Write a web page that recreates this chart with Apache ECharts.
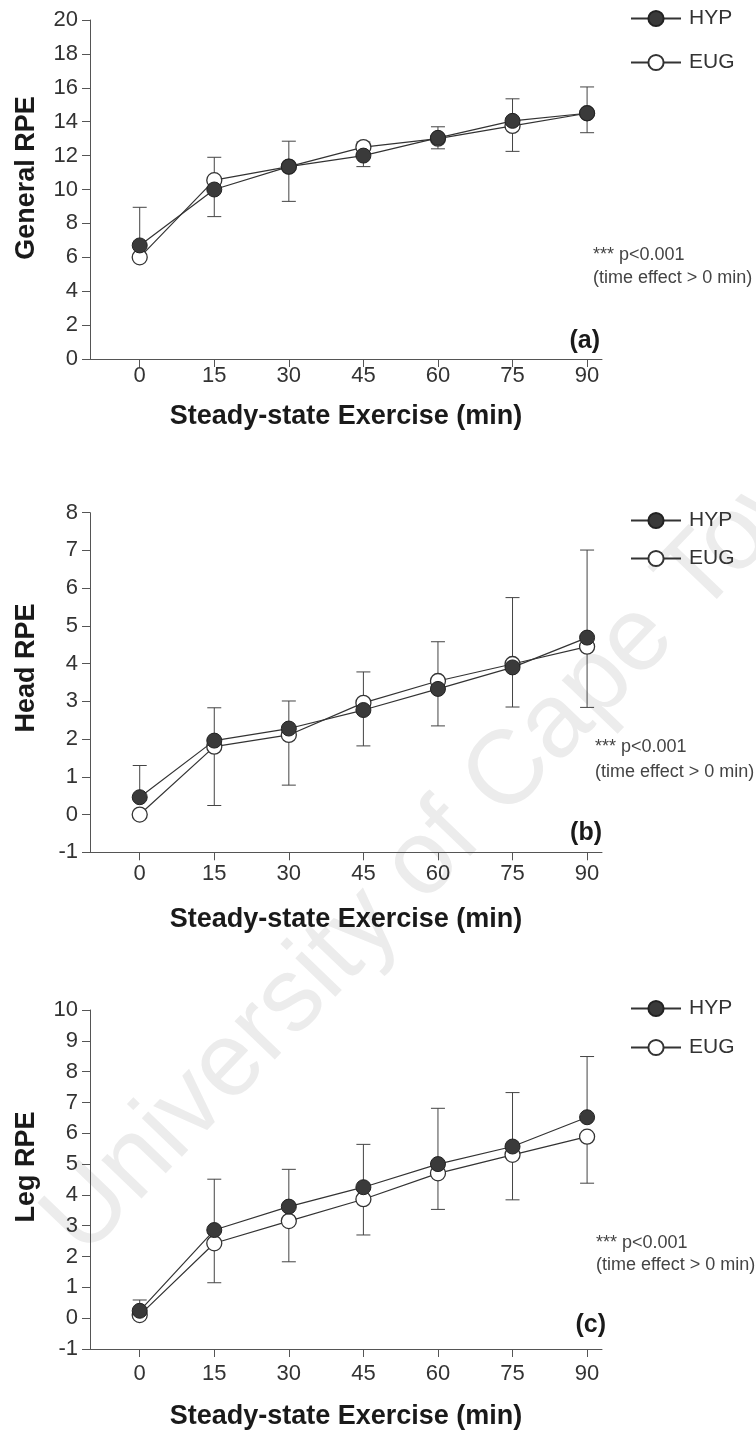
<!DOCTYPE html>
<html>
<head>
<meta charset="utf-8">
<title>RPE during steady-state exercise</title>
<script src="https://cdn.jsdelivr.net/npm/echarts@6/dist/echarts.min.js"></script>
<style>
  html, body { margin: 0; padding: 0; background: #fff; }
  #chart { width: 756px; height: 1431px; }
</style>
</head>
<body>
<div id="chart"></div>
<script>
// Sampling times (min) and the x tick labels
const times = [0, 15, 30, 45, 60, 75, 90];
const xTickValues = [0, 15, 30, 45, 60, 75, 90];

// (a) General RPE: means and SD (HYP bars drawn up, EUG bars drawn down)
const generalHypMean = [6.7, 10.0, 11.35, 12.0, 13.05, 14.05, 14.5];
const generalHypSD   = [2.25, 1.9, 1.5, 0.8, 0.65, 1.3, 1.55];
const generalEugMean = [6.0, 10.55, 11.35, 12.5, 13.0, 13.75, 14.5];
const generalEugSD   = [0, 2.15, 2.05, 1.15, 0.6, 1.5, 1.15];

// (b) Head RPE
const headHypMean = [0.46, 1.96, 2.28, 2.77, 3.33, 3.90, 4.69];
const headHypSD   = [0.84, 0.87, 0.73, 1.01, 1.25, 1.85, 2.32];
const headEugMean = [0.0, 1.80, 2.11, 2.96, 3.54, 3.99, 4.45];
const headEugSD   = [0, 1.56, 1.33, 1.14, 1.19, 1.14, 1.61];

// (c) Leg RPE
const legHypMean = [0.24, 2.86, 3.62, 4.25, 5.0, 5.57, 6.52];
const legHypSD   = [0.35, 1.65, 1.21, 1.39, 1.81, 1.75, 1.97];
const legEugMean = [0.10, 2.43, 3.15, 3.86, 4.70, 5.30, 5.89];
const legEugSD   = [0.1, 1.28, 1.32, 1.16, 1.17, 1.46, 1.51];

// y-axis ranges per panel
const generalY = { min: 0, max: 20, interval: 2 };
const headY    = { min: -1, max: 8, interval: 1 };
const legY     = { min: -1, max: 10, interval: 1 };

const FONT = '"Liberation Sans", Arial, sans-serif';
const AXIS = '#555';

const panels = [
  { title: 'General RPE', hyp: generalHypMean, hypSD: generalHypSD, eug: generalEugMean, eugSD: generalEugSD,
    y: generalY, grid: { left: 90, top: 20, width: 512, height: 339 },
    labelMargin: 6, nameGap: 44, yNamePad: 23, legendTop: 3, legendGap: 23 },
  { title: 'Head RPE', hyp: headHypMean, hypSD: headHypSD, eug: headEugMean, eugSD: headEugSD,
    y: headY, grid: { left: 90, top: 512.7, width: 512, height: 339.6 },
    labelMargin: 11, nameGap: 54, yNamePad: 29, legendTop: 505, legendGap: 17 },
  { title: 'Leg RPE', hyp: legHypMean, hypSD: legHypSD, eug: legEugMean, eugSD: legEugSD,
    y: legY, grid: { left: 90, top: 1010, width: 512, height: 339 },
    labelMargin: 14, nameGap: 54, yNamePad: 25, legendTop: 993, legendGap: 18 }
];

function pairs(means) {
  return times.map((t, i) => [t, means[i]]);
}
function barData(means, sds, dir) {
  return times.map((t, i) => [t, means[i], means[i] + dir * sds[i]]);
}

// Vertical error bar with a cap at its far end
function renderErrorBar(params, api) {
  const x = api.value(0);
  const m = api.value(1);
  const e = api.value(2);
  if (m === e) return { type: 'group', children: [] };
  const p0 = api.coord([x, m]);
  const p1 = api.coord([x, e]);
  const half = 7;
  const style = { stroke: '#444', lineWidth: 1 };
  return {
    type: 'group',
    children: [
      { type: 'line', shape: { x1: p0[0], y1: p0[1], x2: p1[0], y2: p1[1] }, style: style },
      { type: 'line', shape: { x1: p1[0] - half, y1: p1[1], x2: p1[0] + half, y2: p1[1] }, style: style }
    ]
  };
}

const grid = [], xAxis = [], yAxis = [], series = [], legend = [];

panels.forEach((p, k) => {
  grid.push(Object.assign({ containLabel: false }, p.grid));
  xAxis.push({
    type: 'value', gridIndex: k, min: -10, max: 93,
    name: 'Steady-state Exercise (min)', nameLocation: 'middle', nameGap: p.nameGap,
    nameTextStyle: { fontFamily: FONT, fontSize: 27, fontWeight: 'bold', color: '#1a1a1a' },
    axisLine: { onZero: false, lineStyle: { color: AXIS, width: 1 } },
    axisTick: { show: true, length: 8, customValues: xTickValues, lineStyle: { color: AXIS } },
    axisLabel: { customValues: xTickValues, margin: p.labelMargin, fontFamily: FONT, fontSize: 22, color: '#333' },
    splitLine: { show: false }
  });
  yAxis.push({
    type: 'value', gridIndex: k, min: p.y.min, max: p.y.max, interval: p.y.interval,
    name: p.title, nameLocation: 'middle', nameGap: 50,
    nameTextStyle: { fontFamily: FONT, fontSize: 27, fontWeight: 'bold', color: '#1a1a1a', padding: [0, 0, 0, p.yNamePad] },
    axisLine: { show: true, onZero: false, lineStyle: { color: AXIS, width: 1 } },
    axisTick: { show: true, length: 8, lineStyle: { color: AXIS } },
    axisLabel: { margin: 12, fontFamily: FONT, fontSize: 22, color: '#333' },
    splitLine: { show: false }
  });

  series.push({
    type: 'custom', name: 'HYP SD ' + k, xAxisIndex: k, yAxisIndex: k, z: 1,
    renderItem: renderErrorBar, encode: { x: 0, y: [1, 2] },
    data: barData(p.hyp, p.hypSD, 1), silent: true
  });
  series.push({
    type: 'custom', name: 'EUG SD ' + k, xAxisIndex: k, yAxisIndex: k, z: 1,
    renderItem: renderErrorBar, encode: { x: 0, y: [1, 2] },
    data: barData(p.eug, p.eugSD, -1), silent: true
  });
  series.push({
    type: 'line', name: 'EUG', xAxisIndex: k, yAxisIndex: k, z: 3,
    data: pairs(p.eug), symbol: 'circle', symbolSize: 15, showSymbol: true,
    lineStyle: { color: '#333', width: 1.2 },
    itemStyle: { color: '#ffffff', borderColor: '#333', borderWidth: 1.3 }
  });
  series.push({
    type: 'line', name: 'HYP', xAxisIndex: k, yAxisIndex: k, z: 4,
    data: pairs(p.hyp), symbol: 'circle', symbolSize: 15, showSymbol: true,
    lineStyle: { color: '#333', width: 1.2 },
    itemStyle: { color: '#3a3a3a', borderColor: '#222', borderWidth: 1 }
  });

  legend.push({
    data: ['HYP', 'EUG'], orient: 'vertical', left: 625, top: p.legendTop,
    itemWidth: 50, itemHeight: 19, itemGap: p.legendGap, selectedMode: false,
    textStyle: { fontFamily: FONT, fontSize: 21, lineHeight: 21, color: '#333', padding: [0, 0, 0, 3] }
  });
});

// Panel letters and statistics notes
const notes = [
  { letter: '(a)', lx: 600, ly: 341, nx: 593, ny1: 255, ny2: 278 },
  { letter: '(b)', lx: 602, ly: 833, nx: 595, ny1: 747, ny2: 772 },
  { letter: '(c)', lx: 606, ly: 1325, nx: 596, ny1: 1243, ny2: 1265 }
];
const graphicElements = [
  {
    type: 'text', x: 455, y: 830, rotation: 0.806, z: -10, silent: true,
    style: { text: 'University of Cape Town', font: '105px ' + FONT, fill: '#ececec',
             textAlign: 'center', textVerticalAlign: 'middle' }
  }
];
notes.forEach(n => {
  graphicElements.push({
    type: 'text', x: n.lx, y: n.ly,
    style: { text: n.letter, font: 'bold 25px ' + FONT, fill: '#1a1a1a', textAlign: 'right', textVerticalAlign: 'middle' }
  });
  graphicElements.push({
    type: 'text', x: n.nx, y: n.ny1,
    style: { text: '*** p<0.001', font: '18px ' + FONT, fill: '#444', textAlign: 'left', textVerticalAlign: 'middle' }
  });
  graphicElements.push({
    type: 'text', x: n.nx, y: n.ny2,
    style: { text: '(time effect > 0 min)', font: '18px ' + FONT, fill: '#444', textAlign: 'left', textVerticalAlign: 'middle' }
  });
});

const chart = echarts.init(document.getElementById('chart'), null, { renderer: 'canvas' });
chart.setOption({
  animation: false,
  backgroundColor: '#ffffff',
  grid: grid,
  xAxis: xAxis,
  yAxis: yAxis,
  legend: legend,
  series: series,
  graphic: { elements: graphicElements }
});
</script>
</body>
</html>
